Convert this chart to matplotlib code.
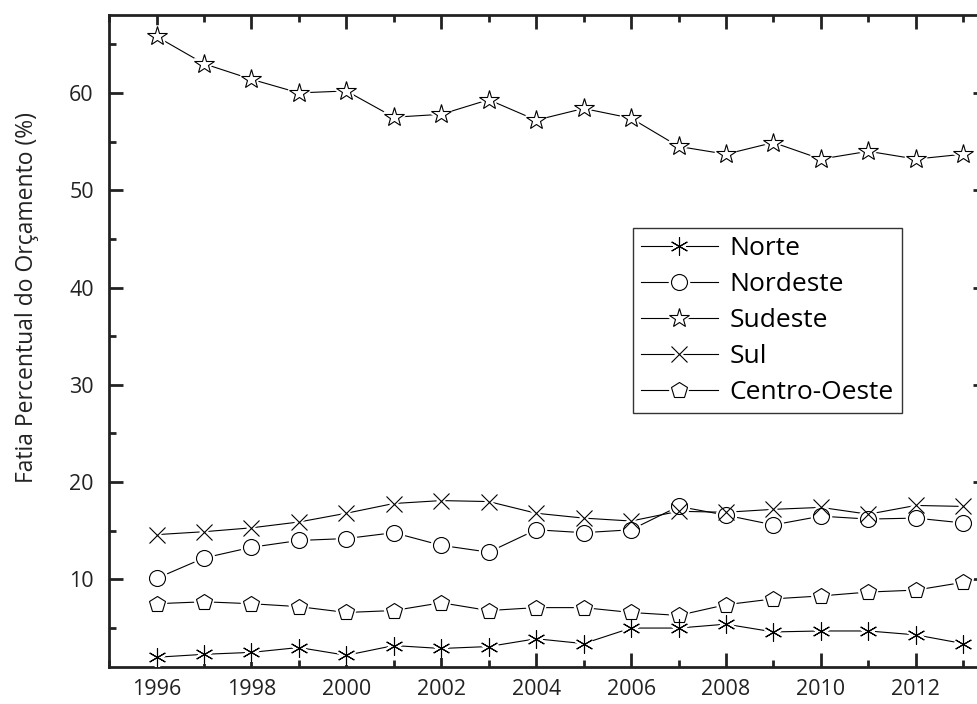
import matplotlib
matplotlib.use("Agg")
import matplotlib.pyplot as plt
from matplotlib.ticker import MultipleLocator

plt.rcParams['font.family'] = ['Open Sans', 'DejaVu Sans']

# Budget share by region (%)
years = list(range(1996, 2014))
norte = [2.0, 2.3, 2.5, 3.0, 2.2, 3.2, 2.9, 3.1, 3.9, 3.4, 5.0, 5.0, 5.4, 4.6, 4.7, 4.7, 4.3, 3.4]
nordeste = [10.1, 12.2, 13.3, 14.0, 14.2, 14.8, 13.5, 12.8, 15.1, 14.8, 15.1, 17.5, 16.6, 15.6, 16.5, 16.2, 16.3, 15.8]
sudeste = [65.8, 63.0, 61.4, 60.0, 60.2, 57.5, 57.8, 59.3, 57.2, 58.4, 57.4, 54.5, 53.7, 54.9, 53.2, 54.0, 53.2, 53.7]
sul = [14.6, 14.9, 15.3, 15.9, 16.8, 17.8, 18.1, 18.0, 16.8, 16.3, 16.0, 17.0, 16.9, 17.2, 17.4, 16.7, 17.6, 17.5]
centro_oeste = [7.5, 7.7, 7.5, 7.2, 6.6, 6.8, 7.6, 6.8, 7.1, 7.1, 6.6, 6.3, 7.4, 8.0, 8.3, 8.7, 8.9, 9.7]

series = [
    ("Norte", norte, (6, 2, 0), 13),
    ("Nordeste", nordeste, "o", 11.5),
    ("Sudeste", sudeste, "*", 15),
    ("Sul", sul, "x", 11),
    ("Centro-Oeste", centro_oeste, "p", 12),
]

fig = plt.figure(figsize=(9.78, 7.04), dpi=100)
ax = fig.add_axes([0.1115, 0.0526, 0.8977, 0.926])

handles = []
for name, vals, mk, ms in series:
    ln, = ax.plot(years, vals, '-', color='black', lw=0.8, zorder=2)
    halo, = ax.plot(years, vals, ls='none', marker=mk, ms=ms, mfc='white',
                    mec='white', mew=4, zorder=3)
    mark, = ax.plot(years, vals, ls='none', marker=mk, ms=ms, mfc='none',
                    mec='black', mew=0.8, zorder=4)
    handles.append((ln, halo, mark))

ax.set_xlim(1995, 2013.5)
ax.set_ylim(1, 68)
ax.xaxis.set_major_locator(MultipleLocator(2))
ax.xaxis.set_minor_locator(MultipleLocator(1))
ax.yaxis.set_major_locator(MultipleLocator(10))
ax.yaxis.set_minor_locator(MultipleLocator(5))
ax.tick_params(which='both', direction='in', top=True, right=True, width=2,
               colors='#222222', labelsize=15.5, labelcolor='#222222')
ax.tick_params(which='major', length=10)
ax.tick_params(which='minor', length=5)
ax.tick_params(axis='x', pad=9)
ax.tick_params(axis='y', pad=11)
for sp in ax.spines.values():
    sp.set_linewidth(2)
    sp.set_color('#222222')

ax.set_ylabel("Fatia Percentual do Orçamento (%)", fontsize=16.5, color='#222222')
ax.yaxis.set_label_coords(-0.08, 0.567)

leg = ax.legend(handles, [s[0] for s in series], loc='upper left',
                bbox_to_anchor=(0.597, 0.673), borderaxespad=0, fontsize=19,
                handlelength=2.9, handletextpad=0.45, labelspacing=0.42,
                borderpad=0.3, fancybox=False, framealpha=1, edgecolor='#333333')
leg.get_frame().set_linewidth(1)

fig.savefig("out.png", dpi=100)
